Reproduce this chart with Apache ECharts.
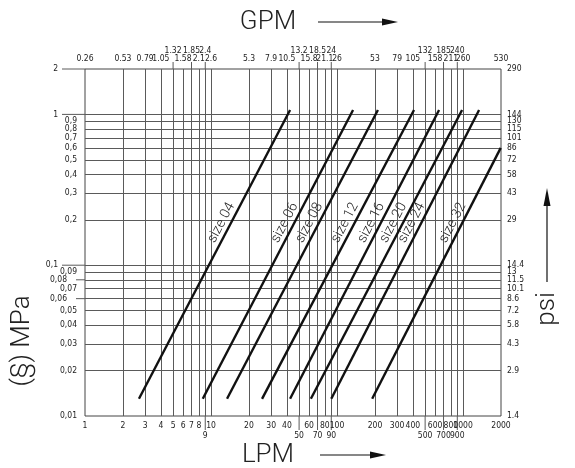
<!DOCTYPE html>
<html><head><meta charset="utf-8">
<script src="https://cdn.jsdelivr.net/npm/echarts@6/dist/echarts.min.js"></script>
<style>html,body{margin:0;padding:0;background:#fff}#c{width:575px;height:468px}</style>
</head><body><div id="c"></div>
<script>
// ---- data ----
const sizeNames = ['size 04','size 06','size 08','size 12','size 16','size 20','size 24','size 32'];
const flowStart = [2.68, 8.6, 13.4, 25.4, 42.4, 62.0, 90.0, 190];      // LPM at lower end
const flowEnd   = [42.4, 134, 211, 408, 645, 982, 1340, 1990];         // LPM at upper end
const dpStart   = [0.013, 0.013, 0.013, 0.013, 0.013, 0.013, 0.013, 0.013]; // MPa at lower end
const dpEnd     = [1.07, 1.07, 1.07, 1.07, 1.07, 1.07, 1.07, 0.60];    // MPa at upper end

const lpmTicks  = [1,2,3,4,5,6,7,8,9,10,20,30,40,50,60,70,80,90,100,200,300,400,500,600,700,800,900,1000,2000];
const lpmLabels = lpmTicks.map(String);
const gpmLabels = ['0.26','0.53','0.79','1.05','1.32','1.58','1.85','2.1','2.4','2.6',
                   '5.3','7.9','10.5','13.2','15.8','18.5','21.1','24','26',
                   '53','79','105','132','158','185','211','240','260','530'];
const gpmRaised = [5,7,9,50,70,90,500,700,900];
const lpmLowered = [9,50,70,90,500,700,900];

const mpaTicks  = [2,1,0.9,0.8,0.7,0.6,0.5,0.4,0.3,0.2,0.1,0.09,0.08,0.07,0.06,0.05,0.04,0.03,0.02,0.01];
const mpaLabels = ['2','1','0,9','0,8','0,7','0,6','0,5','0,4','0,3','0,2','0,1','0,09','0,08','0,07','0,06','0,05','0,04','0,03','0,02','0,01'];
const psiLabels = ['290','144','130','115','101','86','72','58','43','29','14.4','13','11.5','10.1','8.6','7.2','5.8','4.3','2.9','1.4'];
const mpaFar  = [2,1,0.1];
const mpaMid  = [0.08,0.06];

// ---- chart ----
const chart = echarts.init(document.getElementById('c'), null, {renderer:'canvas'});
const GRID = '#5a5a5a';
const tickFont = "'Liberation Sans Narrow','DejaVu Sans Condensed',sans-serif";
const titleFont = "Roboto,'DejaVu Sans',sans-serif";

const innerX = lpmTicks.slice(1, -1);
const innerY = mpaTicks.slice(1, -1);

const series = [{
  type:'line', data:[], silent:true, animation:false,
  markLine:{
    silent:true, animation:false, symbol:['none','none'],
    label:{show:false},
    lineStyle:{color:GRID, width:1, type:'solid'},
    emphasis:{disabled:true},
    data:[...innerX.map(v=>({xAxis:v})), ...innerY.map(v=>({yAxis:v}))]
  }
}];
sizeNames.forEach((n,i)=>{
  series.push({
    type:'line', name:n, z:10, silent:true, animation:false,
    symbol:'none', showSymbol:false,
    lineStyle:{color:'#111', width:2.4},
    data:[[flowStart[i], dpStart[i]], [flowEnd[i], dpEnd[i]]]
  });
});

chart.setOption({
  backgroundColor:'#fff',
  animation:false,
  grid:{left:85, right:74, top:69, bottom:52, show:true, borderColor:'#444', borderWidth:1},
  xAxis:{type:'log', logBase:10, min:1, max:2000,
    axisLine:{show:false}, axisTick:{show:false}, axisLabel:{show:false}, splitLine:{show:false}},
  yAxis:{type:'log', logBase:10, min:0.01, max:2,
    axisLine:{show:false}, axisTick:{show:false}, axisLabel:{show:false}, splitLine:{show:false}},
  series
});

const px = v => chart.convertToPixel({xAxisIndex:0}, v);
const py = v => chart.convertToPixel({yAxisIndex:0}, v);
const leftX = px(1), rightX = px(2000), topY = py(2), botY = py(0.01);

const g = [];
function txt(x, y, t, opt){
  opt = opt || {};
  g.push({type:'text', x, y, rotation:opt.rot||0, silent:true, z:20,
    style:{text:t, fill:opt.fill||'#222',
      font:(opt.weight||'normal')+' '+(opt.size||8.5)+'px '+(opt.family||tickFont),
      textAlign:opt.align||'center', align:opt.align||'center',
      textVerticalAlign:'middle', verticalAlign:'middle'}});
}
function seg(x1,y1,x2,y2,color,w){
  g.push({type:'line', silent:true, z:15, shape:{x1,y1,x2,y2}, style:{stroke:color||GRID, lineWidth:w||1}});
}
function tri(points){
  g.push({type:'polygon', silent:true, z:15, shape:{points}, style:{fill:'#111'}});
}

// top GPM labels and bottom LPM labels
lpmTicks.forEach((v,i)=>{
  const x = px(v);
  const raised = gpmRaised.indexOf(v) >= 0;
  txt(x, raised ? topY-18 : topY-10, gpmLabels[i]);
  if (raised) seg(x, topY-7, x, topY);
  const low = lpmLowered.indexOf(v) >= 0;
  txt(x, low ? botY+19.5 : botY+10, lpmLabels[i]);
  if (low) seg(x, botY, x, botY+14);
});

// left MPa and right psi labels
mpaTicks.forEach((v,i)=>{
  const y = py(v);
  if (mpaFar.indexOf(v) >= 0){ txt(leftX-27, y, mpaLabels[i], {align:'right'}); seg(leftX-23, y, leftX, y); }
  else if (mpaMid.indexOf(v) >= 0){ txt(leftX-18, y, mpaLabels[i], {align:'right'}); seg(leftX-9, y, leftX, y); }
  else txt(leftX-8, y, mpaLabels[i], {align:'right'});
  txt(rightX+6, y, psiLabels[i], {align:'left'});
});

// size labels along each line
sizeNames.forEach((n,i)=>{
  const p0 = chart.convertToPixel({gridIndex:0}, [flowStart[i], dpStart[i]]);
  const p1 = chart.convertToPixel({gridIndex:0}, [flowEnd[i], dpEnd[i]]);
  const ang = Math.atan2(p0[1]-p1[1], p1[0]-p0[0]);
  const ya = 0.18;
  const t = (Math.log10(ya)-Math.log10(dpStart[i]))/(Math.log10(dpEnd[i])-Math.log10(dpStart[i]));
  const xa = Math.pow(10, Math.log10(flowStart[i]) + t*(Math.log10(flowEnd[i])-Math.log10(flowStart[i])));
  const pa = chart.convertToPixel({gridIndex:0}, [xa, ya]);
  const d = 8.5;
  txt(pa[0] - d*Math.sin(ang), pa[1] - d*Math.cos(ang), n, {rot:ang, size:14, weight:300, family:titleFont, fill:'#222'});
});

// titles and arrows
txt(268, 22, 'GPM', {size:26, weight:300, family:titleFont, fill:'#222'});
seg(318, 22, 388, 22, '#111', 1.2); tri([[382,18.5],[398,22],[382,25.5]]);
txt(268, 455, 'LPM', {size:26, weight:300, family:titleFont, fill:'#222'});
seg(320, 455, 376, 455, '#111', 1.2); tri([[370,451.5],[386,455],[370,458.5]]);
txt(22, 341, '(§) MPa', {size:26, weight:300, family:titleFont, fill:'#222', rot:Math.PI/2});
txt(547, 309, 'psi', {size:26, weight:300, family:titleFont, fill:'#222', rot:Math.PI/2});
seg(547, 282, 547, 200, '#111', 1.2); tri([[543.5,206],[547,188],[550.5,206]]);

chart.setOption({graphic:{elements:g}});
</script>
</body></html>
